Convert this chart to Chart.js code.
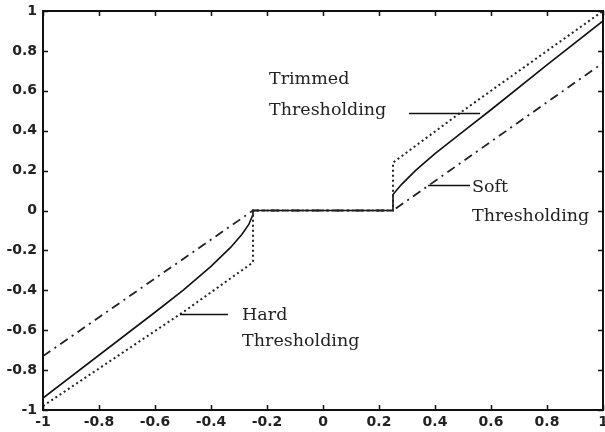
<!DOCTYPE html>
<html>
<head>
<meta charset="utf-8">
<script src="https://cdn.jsdelivr.net/npm/chart.js@4/dist/chart.umd.min.js"></script>
<style>
  html, body { margin: 0; padding: 0; background: #fff; }
</style>
</head>
<body>
<canvas id="chart" width="605" height="432"></canvas>
<script>
// axis ticks
const tickValues = [-1, -0.8, -0.6, -0.4, -0.2, 0, 0.2, 0.4, 0.6, 0.8, 1];
const tickLabels = ["-1", "-0.8", "-0.6", "-0.4", "-0.2", "0", "0.2", "0.4", "0.6", "0.8", "1"];

// hard thresholding (dotted)
const hardX = [-1, -0.5, -0.25, -0.25, 0.25, 0.25, 0.5, 1];
const hardY = [-0.98, -0.51, -0.26, 0, 0, 0.24, 0.5, 1];

// soft thresholding (dash-dot)
const softX = [-1, -0.25, 0.25, 1];
const softY = [-0.73, 0, 0, 0.74];

// trimmed thresholding (solid)
const trimX = [-1, -0.6, -0.5, -0.4, -0.33, -0.29, -0.265, -0.25, -0.25, 0.25, 0.25, 0.28, 0.33, 0.4, 0.5, 0.6, 0.8, 1];
const trimY = [-0.94, -0.51, -0.4, -0.28, -0.185, -0.12, -0.07, -0.02, 0, 0, 0.08, 0.13, 0.2, 0.285, 0.395, 0.505, 0.73, 0.95];

// text labels with leader lines, in data units
const notes = [
  { lines: ["Trimmed", "Thresholding"], x: -0.193, y: [0.634, 0.479], lead: { x1: 0.307, x2: 0.561, y: 0.489 } },
  { lines: ["Soft", "Thresholding"], x: 0.532, y: [0.093, -0.053], lead: { x1: 0.375, x2: 0.525, y: 0.128 } },
  { lines: ["Hard", "Thresholding"], x: -0.289, y: [-0.549, -0.679], lead: { x1: -0.511, x2: -0.339, y: -0.519 } }
];

const pts = (xs, ys) => xs.map((x, i) => ({ x, y: ys[i] }));

const framePlugin = {
  id: "frame",
  afterDraw(chart) {
    const { ctx, chartArea: a, scales: { x, y } } = chart;
    ctx.save();
    ctx.strokeStyle = "#111";
    ctx.lineWidth = 2;
    ctx.strokeRect(a.left, a.top, a.right - a.left, a.bottom - a.top);
    ctx.lineWidth = 1.5;
    ctx.beginPath();
    tickValues.forEach(v => {
      const px = Math.round(x.getPixelForValue(v)) + 0.5;
      ctx.moveTo(px, a.bottom); ctx.lineTo(px, a.bottom - 5);
      ctx.moveTo(px, a.top); ctx.lineTo(px, a.top + 5);
      const py = Math.round(y.getPixelForValue(v)) + 0.5;
      ctx.moveTo(a.left, py); ctx.lineTo(a.left + 5, py);
      ctx.moveTo(a.right, py); ctx.lineTo(a.right - 5, py);
    });
    ctx.stroke();

    ctx.fillStyle = "#222";
    ctx.font = "17.5px 'DejaVu Serif'";
    ctx.textBaseline = "alphabetic";
    ctx.lineWidth = 1.3;
    notes.forEach(n => {
      n.lines.forEach((t, i) => ctx.fillText(t, x.getPixelForValue(n.x), y.getPixelForValue(n.y[i])));
      const ly = Math.round(y.getPixelForValue(n.lead.y)) + 0.5;
      ctx.beginPath();
      ctx.moveTo(x.getPixelForValue(n.lead.x1), ly);
      ctx.lineTo(x.getPixelForValue(n.lead.x2), ly);
      ctx.stroke();
    });
    ctx.restore();
  }
};

const tickFont = { family: "'DejaVu Sans'", size: 14, weight: "bold" };

new Chart(document.getElementById("chart"), {
  type: "line",
  data: {
    datasets: [
      { label: "Hard", data: pts(hardX, hardY), borderColor: "#222", borderWidth: 2, borderDash: [2, 3] },
      { label: "Soft", data: pts(softX, softY), borderColor: "#222", borderWidth: 1.8, borderDash: [9, 5, 2, 5] },
      { label: "Trimmed", data: pts(trimX, trimY), borderColor: "#111", borderWidth: 1.6 }
    ]
  },
  options: {
    responsive: false,
    animation: false,
    devicePixelRatio: 1,
    elements: { point: { radius: 0 }, line: { tension: 0 } },
    layout: { padding: { top: 11, right: 2, left: 0, bottom: 0 } },
    plugins: { legend: { display: false }, tooltip: { enabled: false } },
    scales: {
      x: {
        type: "linear", min: -1, max: 1,
        grid: { display: false, drawTicks: false }, border: { display: false },
        afterBuildTicks: s => { s.ticks = tickValues.map(v => ({ value: v })); },
        afterFit: s => { s.height = 22; s.paddingLeft = 0; s.paddingRight = 0; },
        ticks: { font: tickFont, color: "#222", padding: 4, maxRotation: 0, autoSkip: false,
          callback: (v, i) => tickLabels[i] }
      },
      y: {
        type: "linear", min: -1, max: 1,
        grid: { display: false, drawTicks: false }, border: { display: false },
        afterBuildTicks: s => { s.ticks = tickValues.map(v => ({ value: v })); },
        afterFit: s => { s.width = 43; s.paddingTop = 0; s.paddingBottom = 0; },
        ticks: { font: tickFont, color: "#222", padding: 6, autoSkip: false,
          callback: (v, i) => tickLabels[i] }
      }
    }
  },
  plugins: [framePlugin]
});
</script>
</body>
</html>
